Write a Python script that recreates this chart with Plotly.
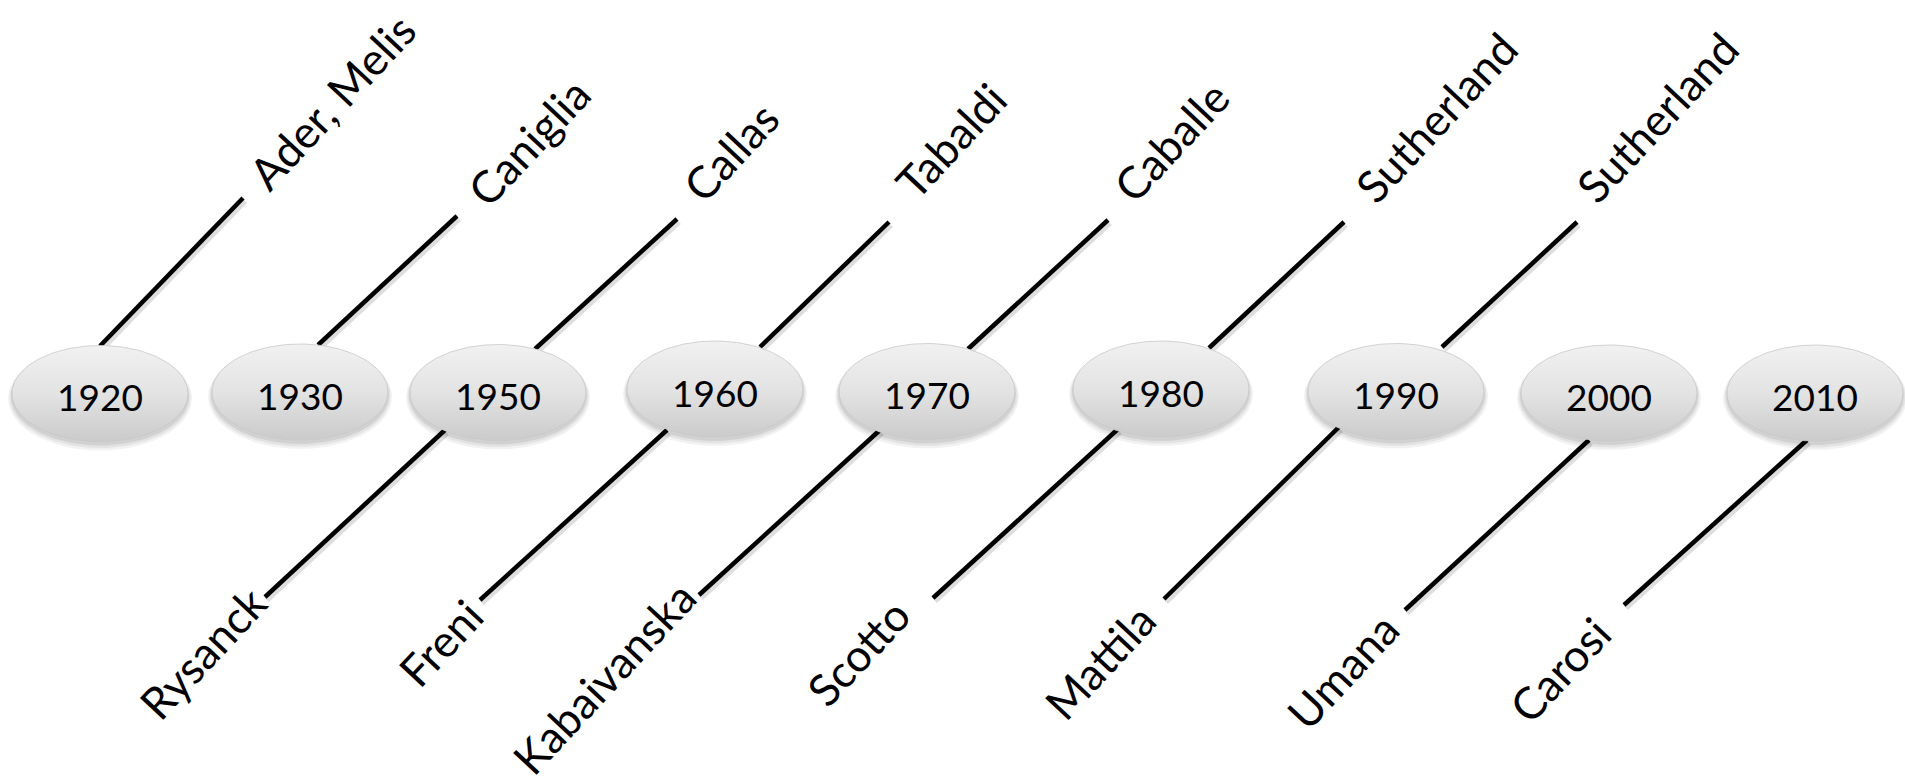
import numpy as np
import plotly.graph_objects as go

# ---- content ----
years = ["1920", "1930", "1950", "1960", "1970", "1980", "1990", "2000", "2010"]
upper_names = ["Ader, Melis", "Caniglia", "Callas", "Tabaldi", "Caballe",
               "Sutherland", "Sutherland", None, None]
lower_names = [None, None, "Rysanck", "Freni", "Kabaivanska", "Scotto",
               "Mattila", "Umana", "Carosi"]

# ---- layout geometry (pixels, y measured from top) ----
node_x = [100, 300, 498, 715, 927, 1161, 1396, 1609, 1815]
node_y = [393.5, 392, 392.5, 389, 391.5, 389, 391.5, 393, 393]
NODE_A, NODE_B = 88, 48

upper_start = [(100, 346), (318, 345), (535, 349), (760, 347), (968, 349),
               (1209, 348), (1442, 347), None, None]
upper_end = [(243, 198), (457, 216), (677, 219), (889, 222), (1108, 220),
             (1344, 222), (1577, 222), None, None]
lower_start = [None, None, (445, 430), (667, 430), (880, 430), (1118, 429),
               (1339, 427), (1589, 440), (1807, 440)]
lower_end = [None, None, (265, 597), (480, 600), (699, 595), (933, 598),
             (1164, 599), (1405, 610), (1624, 605)]
upper_label = [(331, 101), (528, 141), (730, 151), (950, 140), (1170, 141),
               (1435, 117), (1656, 117), None, None]
lower_label = [None, None, (202, 652), (440, 642), (603, 677), (857, 652),
               (1099, 661), (1342, 670), (1559, 669)]

W, H = 1905, 783
FONT = "Lato, 'Open Sans', sans-serif"
LABEL_SIZE = 44.5
LABEL_ANGLE = -47

fig = go.Figure()

# connector lines (shadow + line)
segs = []
for s, e in zip(upper_start, upper_end):
    if s is not None:
        segs.append((s, e))
for s, e in zip(lower_start, lower_end):
    if s is not None:
        segs.append((s, e))

for (s, e) in segs:
    fig.add_trace(go.Scatter(x=[s[0] + 1.5, e[0] + 1.5], y=[s[1] + 2.5, e[1] + 2.5],
                             mode="lines", line=dict(color="rgba(0,0,0,0.13)", width=7),
                             hoverinfo="skip", showlegend=False))
for (s, e) in segs:
    fig.add_trace(go.Scatter(x=[s[0], e[0]], y=[s[1], e[1]], mode="lines",
                             line=dict(color="black", width=4.5),
                             hoverinfo="skip", showlegend=False))

t = np.linspace(0, 2 * np.pi, 181)
# node shadows
for cx, cy in zip(node_x, node_y):
    for grow, dy, alpha in [(4, 5, 0.05), (2.5, 4, 0.06), (1, 3, 0.08)]:
        fig.add_trace(go.Scatter(x=cx + (NODE_A + grow) * np.cos(t),
                                 y=cy + dy + (NODE_B + grow) * np.sin(t),
                                 mode="lines", line=dict(width=0), fill="toself",
                                 fillcolor=f"rgba(0,0,0,{alpha})",
                                 hoverinfo="skip", showlegend=False))
# nodes with vertical gradient
for cx, cy in zip(node_x, node_y):
    fig.add_trace(go.Scatter(x=cx + NODE_A * np.cos(t), y=cy + NODE_B * np.sin(t),
                             mode="lines", line=dict(width=0.8, color="#c8c8c8"),
                             fill="toself",
                             fillgradient=dict(type="vertical",
                                               start=cy - NODE_B, stop=cy + NODE_B,
                                               colorscale=[[0, "#f1f1f1"], [0.5, "#e3e3e3"], [1, "#cbcbcb"]]),
                             hoverinfo="skip", showlegend=False))

annotations = []
for yr, cx, cy in zip(years, node_x, node_y):
    annotations.append(dict(x=cx, y=cy + 3, text=yr, showarrow=False,
                            xanchor="center", yanchor="middle",
                            font=dict(family=FONT, size=37, color="black")))
for name, pos in zip(upper_names, upper_label):
    if name is None:
        continue
    annotations.append(dict(x=pos[0], y=pos[1], text=name, showarrow=False,
                            textangle=LABEL_ANGLE, xanchor="center", yanchor="middle",
                            font=dict(family=FONT, size=LABEL_SIZE, color="black")))
for name, pos in zip(lower_names, lower_label):
    if name is None:
        continue
    annotations.append(dict(x=pos[0], y=pos[1], text=name, showarrow=False,
                            textangle=LABEL_ANGLE, xanchor="center", yanchor="middle",
                            font=dict(family=FONT, size=LABEL_SIZE, color="black")))

fig.update_layout(
    width=W, height=H, margin=dict(l=0, r=0, t=0, b=0),
    paper_bgcolor="white", plot_bgcolor="white",
    xaxis=dict(range=[0, W], visible=False, fixedrange=True),
    yaxis=dict(range=[H, 0], visible=False, fixedrange=True),
    annotations=annotations, showlegend=False,
)

fig.write_html("out.html", config={"displayModeBar": False},
               post_script="document.body.style.margin='0';document.body.style.overflow='hidden';")
